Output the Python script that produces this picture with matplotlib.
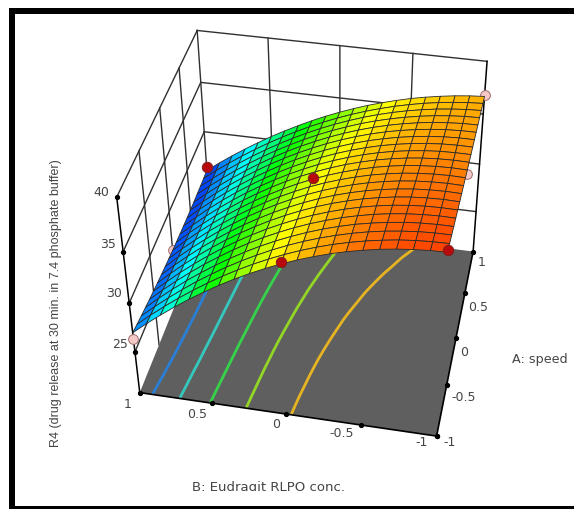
import numpy as np
import matplotlib
matplotlib.use("Agg")
import matplotlib.pyplot as plt
from matplotlib.colors import LinearSegmentedColormap
from matplotlib.patches import Rectangle
from matplotlib.transforms import Bbox

W, H = 574, 510

speed = [-1, -0.9, -0.8, -0.7, -0.6, -0.5, -0.4, -0.3, -0.2, -0.1, 0, 0.1, 0.2, 0.3, 0.4, 0.5, 0.6, 0.7, 0.8, 0.9, 1]
conc = [-1, -0.9, -0.8, -0.7, -0.6, -0.5, -0.4, -0.3, -0.2, -0.1, 0, 0.1, 0.2, 0.3, 0.4, 0.5, 0.6, 0.7, 0.8, 0.9, 1]
# one row per speed, one column per conc
response = [
    [38.80, 38.76, 38.66, 38.51, 38.30, 38.02, 37.70, 37.31, 36.86, 36.36, 35.80, 35.18, 34.50, 33.77, 32.98, 32.12, 31.22, 30.25, 29.22, 28.14, 27.00],
    [38.67, 38.64, 38.56, 38.42, 38.21, 37.95, 37.63, 37.25, 36.81, 36.31, 35.75, 35.13, 34.45, 33.71, 32.91, 32.05, 31.13, 30.15, 29.11, 28.02, 26.86],
    [38.54, 38.53, 38.46, 38.32, 38.13, 37.88, 37.56, 37.18, 36.75, 36.25, 35.69, 35.07, 34.38, 33.64, 32.84, 31.97, 31.05, 30.06, 29.01, 27.90, 26.73],
    [38.41, 38.41, 38.35, 38.23, 38.04, 37.79, 37.49, 37.11, 36.68, 36.18, 35.62, 35.00, 34.32, 33.57, 32.76, 31.89, 30.96, 29.97, 28.91, 27.79, 26.61],
    [38.28, 38.30, 38.24, 38.13, 37.95, 37.71, 37.40, 37.04, 36.60, 36.11, 35.55, 34.93, 34.25, 33.50, 32.69, 31.81, 30.88, 29.87, 28.81, 27.68, 26.49],
    [38.16, 38.18, 38.14, 38.03, 37.86, 37.62, 37.32, 36.95, 36.52, 36.03, 35.47, 34.85, 34.17, 33.42, 32.61, 31.73, 30.79, 29.79, 28.72, 27.58, 26.39],
    [38.04, 38.07, 38.03, 37.93, 37.76, 37.52, 37.23, 36.86, 36.44, 35.95, 35.39, 34.77, 34.09, 33.34, 32.53, 31.65, 30.71, 29.70, 28.63, 27.49, 26.29],
    [37.93, 37.96, 37.92, 37.82, 37.65, 37.42, 37.13, 36.77, 36.35, 35.86, 35.30, 34.68, 34.00, 33.25, 32.44, 31.56, 30.62, 29.61, 28.54, 27.41, 26.21],
    [37.82, 37.85, 37.81, 37.71, 37.55, 37.32, 37.03, 36.67, 36.25, 35.76, 35.21, 34.59, 33.91, 33.16, 32.35, 31.48, 30.54, 29.53, 28.46, 27.33, 26.13],
    [37.71, 37.74, 37.70, 37.60, 37.44, 37.21, 36.92, 36.56, 36.14, 35.66, 35.11, 34.49, 33.81, 33.07, 32.26, 31.39, 30.45, 29.45, 28.38, 27.25, 26.06],
    [37.60, 37.63, 37.59, 37.49, 37.33, 37.10, 36.81, 36.45, 36.03, 35.55, 35.00, 34.39, 33.71, 32.97, 32.17, 31.30, 30.37, 29.37, 28.31, 27.19, 26.00],
    [37.50, 37.52, 37.48, 37.38, 37.21, 36.98, 36.69, 36.33, 35.92, 35.43, 34.89, 34.28, 33.61, 32.87, 32.07, 31.21, 30.28, 29.30, 28.24, 27.13, 25.95],
    [37.40, 37.41, 37.37, 37.26, 37.09, 36.86, 36.57, 36.21, 35.79, 35.31, 34.77, 34.16, 33.49, 32.76, 31.97, 31.12, 30.20, 29.22, 28.18, 27.07, 25.91],
    [37.30, 37.31, 37.26, 37.14, 36.97, 36.73, 36.44, 36.08, 35.66, 35.18, 34.64, 34.04, 33.38, 32.65, 31.87, 31.02, 30.12, 29.15, 28.12, 27.03, 25.88],
    [37.20, 37.20, 37.14, 37.02, 36.84, 36.60, 36.30, 35.95, 35.53, 35.05, 34.51, 33.91, 33.26, 32.54, 31.76, 30.93, 30.03, 29.08, 28.06, 26.99, 25.85],
    [37.11, 37.10, 37.03, 36.90, 36.71, 36.47, 36.17, 35.81, 35.39, 34.91, 34.38, 33.78, 33.13, 32.42, 31.66, 30.83, 29.95, 29.01, 28.01, 26.95, 25.84],
    [37.02, 37.00, 36.91, 36.78, 36.58, 36.33, 36.02, 35.66, 35.24, 34.76, 34.23, 33.64, 33.00, 32.30, 31.54, 30.73, 29.86, 28.94, 27.96, 26.92, 25.83],
    [36.94, 36.90, 36.80, 36.65, 36.44, 36.18, 35.87, 35.51, 35.09, 34.61, 34.08, 33.50, 32.86, 32.17, 31.43, 30.63, 29.78, 28.88, 27.92, 26.90, 25.84],
    [36.86, 36.80, 36.68, 36.52, 36.30, 36.04, 35.72, 35.35, 34.93, 34.45, 33.93, 33.35, 32.72, 32.04, 31.31, 30.53, 29.70, 28.81, 27.88, 26.89, 25.85],
    [36.78, 36.70, 36.57, 36.39, 36.16, 35.88, 35.56, 35.18, 34.76, 34.29, 33.77, 33.20, 32.58, 31.91, 31.19, 30.43, 29.62, 28.75, 27.84, 26.88, 25.87],
    [36.70, 36.60, 36.45, 36.25, 36.01, 35.73, 35.39, 35.01, 34.59, 34.12, 33.60, 33.04, 32.43, 31.77, 31.07, 30.33, 29.53, 28.69, 27.81, 26.88, 25.90],
]

z_low, z_high = 20.6, 40
z_ticks = [25, 30, 35, 40]
axis_ticks = [-1, -0.5, 0, 0.5, 1]
levels = [28, 30, 32, 34, 36]
level_colors = ["#2a7fd5", "#35c9bd", "#35d24a", "#93d626", "#e6b422"]
red_speed = [1, 0, -1, -1]
red_conc = [1, 0, 0, -1]
red_r4 = [26.3, 35.1, 36.0, 39.0]
pink_speed = [-1, 0, 1, 0]
pink_conc = [1, 1, -1, -1]
pink_r4 = [26.4, 26.0, 36.8, 37.2]

v_min, v_max = 25.3, 40.0
rainbow = LinearSegmentedColormap.from_list("rsm", [(0.0, "#0000c8"), (0.08, "#0050ff"), (0.265, "#00ffff"),
                                                    (0.476, "#00ff00"), (0.68, "#ffff00"), (1.0, "#ff0000")])

Agrid, Bgrid = np.meshgrid(speed, conc, indexing="ij")
resp = np.array(response)

fig = plt.figure(figsize=(W / 100, H / 100), dpi=100)
s = 465.96
ax = fig.add_axes([73.98 / W, 42.61 / H, s / W, s / H], projection="3d", computed_zorder=False)
ax.set_xlim(-1, 1)
ax.set_ylim(-1, 1)
ax.set_zlim(z_low, z_high)
ax.view_init(40.07, 192.28, 0.79)
ax.set_proj_type("persp", focal_length=0.6192)
ax.set_box_aspect((1.1049, 1.1904, 1.0))
ax.set_axis_off()
ax.patch.set_alpha(0)

wall = dict(color="#303030", lw=1.0, zorder=1)
for z in z_ticks:
    ax.plot([-1, 1], [1, 1], [z, z], **wall)
    ax.plot([1, 1], [1, -1], [z, z], **wall)
for t in [-0.5, 0, 0.5]:
    ax.plot([t, t], [1, 1], [z_low, z_high], **wall)
    ax.plot([1, 1], [t, t], [z_low, z_high], **wall)
ax.plot([1, 1], [1, 1], [z_low, z_high], **wall)
ax.plot([-1, -1], [1, 1], [z_low, z_high], color="black", lw=1.1, zorder=1)
ax.plot([1, 1], [-1, -1], [z_low, z_high], color="black", lw=1.1, zorder=1)

ax.plot_surface(np.array([[-1, -1], [1, 1]]), np.array([[-1, 1], [-1, 1]]), np.full((2, 2), z_low),
                color="#5f5f5f", shade=False, linewidth=0, zorder=2)
ax.contour(Agrid, Bgrid, resp, levels=levels, colors=level_colors, linewidths=2.0, offset=z_low, zdir="z", zorder=3)
ax.plot([-1, -1, 1], [1, -1, -1], [z_low, z_low, z_low], color="black", lw=1.2, zorder=3)

ax.plot(pink_speed, pink_conc, pink_r4, ls="none", marker="o", ms=7, mfc="#f6c9c9", mec="#a06a6a", mew=0.7, zorder=4)
ax.plot_surface(Agrid, Bgrid, resp, rstride=1, cstride=1, cmap=rainbow, vmin=v_min, vmax=v_max,
                shade=False, edgecolor="#2a2a2a", linewidth=0.6, zorder=5)
ax.plot(red_speed, red_conc, red_r4, ls="none", marker="o", ms=7.5, mfc="#b80a0a", mec="#7c2020", mew=0.7, zorder=6)

tick = dict(ls="none", marker="o", ms=2.8, color="black", zorder=6)
ax.plot([-1] * 4, [1] * 4, z_ticks, **tick)
ax.plot([-1] * 5, axis_ticks, [z_low] * 5, **tick)
ax.plot(axis_ticks, [-1] * 5, [z_low] * 5, **tick)

lab = dict(color="#444444", fontsize=9, ha="center", va="center")


def put(x, y, text, **kw):
    opts = dict(lab)
    opts.update(kw)
    return fig.text(x / W, 1 - y / H, text, **opts)


for x, y, t in [(101, 193, "40"), (108, 244, "35"), (114, 294, "30"), (120, 344, "25")]:
    put(x, y, t)
for x, y, t in [(128, 405, "1"), (197, 415, "0.5"), (276, 424, "0"), (342, 434, "-0.5"), (422, 443, "-1")]:
    put(x, y, t)
for x, y, t in [(450, 443, "-1"), (464, 398, "-0.5"), (464, 353, "0"), (478, 308, "0.5"), (482, 263, "1")]:
    put(x, y, t)
put(540, 359, "A: speed", fontsize=9.2)
xl = put(268, 491, "B: Eudragit RLPO conc.", fontsize=9.5, va="baseline")
xl.set_clip_box(Bbox([[0, H - 492], [W, H]]))
xl.set_clip_on(True)
put(56, 303, "R4 (drug release at 30 min. in 7.4 phosphate buffer)", rotation=90, fontsize=9,
    family="Liberation Sans")

for x, y, w, h in [(9, 9, 565, 6), (9, 9, 6, 501), (9, 507, 565, 3)]:
    fig.add_artist(Rectangle((x / W, 1 - (y + h) / H), w / W, h / H, transform=fig.transFigure, color="black", lw=0))

fig.savefig("out.png", dpi=100)
